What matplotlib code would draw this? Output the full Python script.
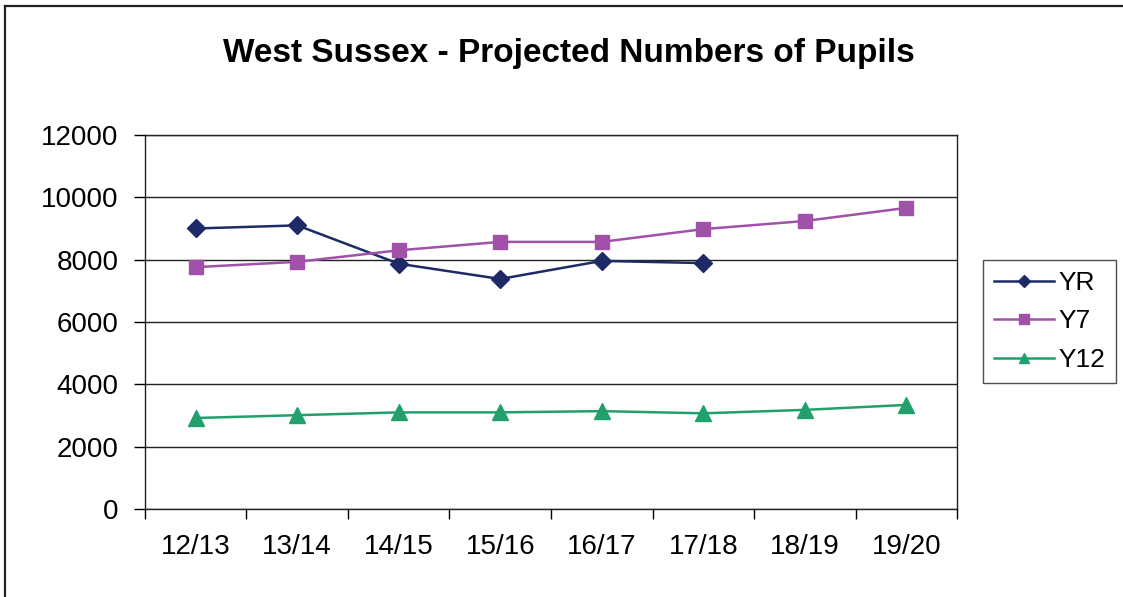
import numpy as np
import matplotlib
matplotlib.use('Agg')
import matplotlib.pyplot as plt
from matplotlib.lines import Line2D

plt.rcParams['font.family'] = ['Liberation Sans', 'DejaVu Sans']

years = ['12/13', '13/14', '14/15', '15/16', '16/17', '17/18', '18/19', '19/20']
yr = [9000, 9100, 7870, 7380, 7960, 7890]
y7 = [7760, 7930, 8300, 8570, 8570, 8980, 9240, 9660]
y12 = [2920, 3010, 3100, 3100, 3140, 3070, 3180, 3340]

fig = plt.figure(figsize=(11.23, 5.97), dpi=100)
ax = fig.add_axes([0.1291, 0.1474, 0.7231, 0.6265])

x = np.arange(len(years))
ax.plot(x[:len(yr)], yr, color='#1d2a66', lw=1.8, marker='D', ms=9, label='YR')
ax.plot(x, y7, color='#a052a8', lw=1.8, marker='s', ms=10, label='Y7')
ax.plot(x, y12, color='#22a06b', lw=1.8, marker='^', ms=11, label='Y12')

ax.set_xlim(-0.5, len(years) - 0.5)
ax.set_ylim(0, 12000)
ax.set_yticks(np.arange(0, 12001, 2000))
ax.set_xticks(x)
ax.set_xticklabels(years)
ax.set_xticks(np.arange(-0.5, len(years), 1), minor=True)
ax.tick_params(axis='x', which='major', length=0, pad=18, labelsize=20)
ax.tick_params(axis='x', which='minor', length=7, width=1, direction='out')
ax.tick_params(axis='y', length=8, width=1, direction='out', pad=11, labelsize=20)
ax.yaxis.grid(True, color='#222222', lw=1)
ax.set_axisbelow(True)
for s in ax.spines.values():
    s.set_color('#222222')
    s.set_linewidth(1)

fig.text(0.507, 0.91, 'West Sussex - Projected Numbers of Pupils', ha='center', va='center',
         fontsize=24, fontweight='bold')

leg = ax.legend(loc='center left', bbox_to_anchor=(0.8753, 0.4615), bbox_transform=fig.transFigure,
                fontsize=19, frameon=True, fancybox=False, edgecolor='#222222', borderaxespad=0,
                handlelength=2.3, borderpad=0.4, labelspacing=0.55, handletextpad=0.15,
                markerscale=0.7)
leg.get_frame().set_linewidth(1)

# outer chart-area border (top and left edges visible)
fig.add_artist(Line2D([0.0045, 1.0], [0.990, 0.990], transform=fig.transFigure, color='#222222', lw=1.6))
fig.add_artist(Line2D([0.0045, 0.0045], [0.0, 0.990], transform=fig.transFigure, color='#222222', lw=1.6))

fig.savefig('out.png', dpi=100)
